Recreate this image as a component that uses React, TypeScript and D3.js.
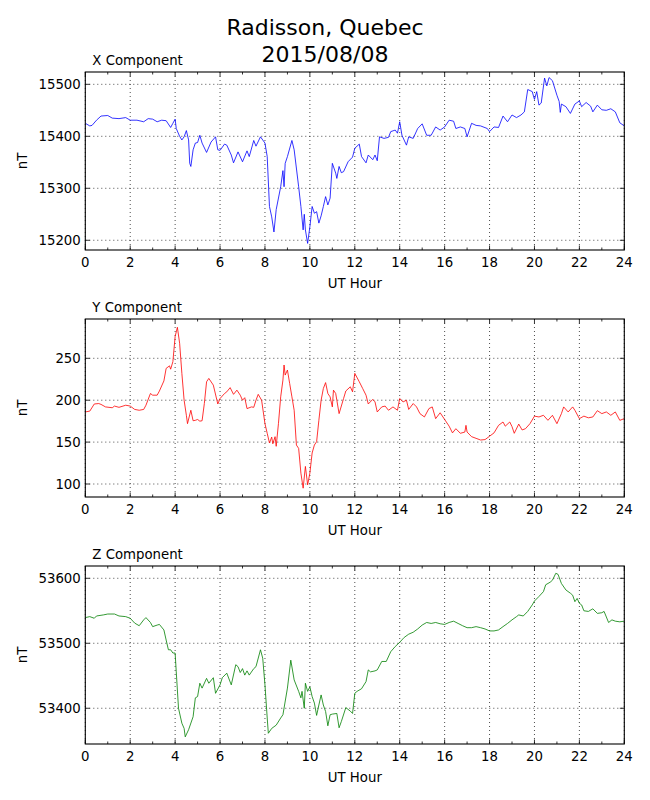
import { useMemo } from "react";
import * as d3 from "d3";

// Radisson magnetometer, 2015/08/08
const xHours = [0, 0.2, 0.3, 0.5, 0.7, 1.0, 1.2, 1.5, 1.8, 2.0, 2.3, 2.6, 2.8, 3.0, 3.2, 3.4, 3.6, 3.8, 3.9, 4.0, 4.05, 4.2, 4.3, 4.4, 4.5, 4.6, 4.65, 4.7, 4.8, 4.9, 5.0, 5.1, 5.2, 5.4, 5.6, 5.8, 5.9, 6.0, 6.2, 6.3, 6.5, 6.6, 6.8, 7.0, 7.2, 7.3, 7.5, 7.6, 7.8, 8.0, 8.1, 8.2, 8.3, 8.4, 8.5, 8.7, 8.8, 8.85, 8.9, 9.0, 9.2, 9.3, 9.5, 9.6, 9.7, 9.75, 9.8, 9.9, 10.0, 10.1, 10.2, 10.3, 10.4, 10.5, 10.6, 10.7, 10.8, 10.9, 11.0, 11.15, 11.2, 11.3, 11.4, 11.5, 11.7, 11.9, 12.0, 12.2, 12.3, 12.5, 12.6, 12.8, 12.9, 13.0, 13.1, 13.3, 13.5, 13.6, 13.8, 13.9, 14.0, 14.1, 14.3, 14.4, 14.6, 14.8, 15.0, 15.2, 15.4, 15.6, 15.8, 16.0, 16.2, 16.4, 16.5, 16.7, 16.9, 17.0, 17.2, 17.4, 17.6, 17.9, 18.0, 18.2, 18.4, 18.6, 18.8, 19.0, 19.2, 19.4, 19.55, 19.7, 19.9, 20.0, 20.1, 20.2, 20.3, 20.45, 20.55, 20.65, 20.8, 21.0, 21.1, 21.15, 21.2, 21.4, 21.6, 21.8, 22.0, 22.1, 22.3, 22.5, 22.6, 22.8, 23.0, 23.2, 23.4, 23.6, 23.8, 24.0];
const xValues = [15425, 15420, 15421, 15431, 15439, 15440, 15435, 15434, 15436, 15431, 15431, 15428, 15434, 15433, 15428, 15431, 15430, 15417, 15425, 15433, 15415, 15400, 15393, 15399, 15411, 15393, 15348, 15342, 15374, 15387, 15388, 15402, 15387, 15369, 15389, 15399, 15374, 15373, 15385, 15383, 15364, 15349, 15370, 15351, 15372, 15361, 15392, 15381, 15399, 15387, 15361, 15265, 15245, 15216, 15259, 15303, 15334, 15303, 15348, 15361, 15392, 15374, 15303, 15265, 15220, 15250, 15220, 15194, 15226, 15265, 15252, 15255, 15233, 15247, 15265, 15284, 15268, 15281, 15348, 15329, 15319, 15342, 15330, 15332, 15351, 15360, 15377, 15385, 15361, 15349, 15364, 15355, 15364, 15353, 15399, 15396, 15398, 15409, 15412, 15406, 15428, 15402, 15383, 15399, 15396, 15415, 15424, 15402, 15402, 15418, 15412, 15418, 15431, 15429, 15415, 15418, 15415, 15399, 15425, 15421, 15420, 15415, 15409, 15418, 15417, 15439, 15428, 15441, 15436, 15441, 15447, 15490, 15486, 15471, 15486, 15460, 15464, 15512, 15497, 15513, 15507, 15479, 15467, 15446, 15462, 15457, 15444, 15462, 15468, 15457, 15465, 15458, 15447, 15460, 15451, 15450, 15453, 15447, 15426, 15420];

const yHours = [0, 0.2, 0.4, 0.6, 0.7, 0.9, 1.2, 1.3, 1.5, 1.8, 2.0, 2.2, 2.4, 2.6, 2.7, 2.9, 3.0, 3.2, 3.3, 3.5, 3.6, 3.75, 3.8, 3.9, 4.0, 4.1, 4.2, 4.3, 4.4, 4.5, 4.55, 4.7, 4.8, 4.9, 5.0, 5.1, 5.2, 5.3, 5.4, 5.5, 5.7, 5.9, 6.0, 6.2, 6.3, 6.45, 6.6, 6.75, 6.9, 7.0, 7.1, 7.2, 7.4, 7.5, 7.6, 7.7, 7.85, 8.0, 8.1, 8.2, 8.3, 8.35, 8.45, 8.5, 8.6, 8.7, 8.8, 8.85, 8.9, 9.0, 9.1, 9.2, 9.3, 9.4, 9.5, 9.6, 9.7, 9.8, 9.9, 10.0, 10.1, 10.2, 10.3, 10.4, 10.5, 10.6, 10.7, 10.8, 10.9, 11.0, 11.05, 11.15, 11.3, 11.5, 11.6, 11.8, 11.9, 12.0, 12.2, 12.35, 12.5, 12.6, 12.8, 12.9, 13.0, 13.2, 13.35, 13.5, 13.7, 13.9, 14.0, 14.15, 14.3, 14.4, 14.6, 14.75, 14.9, 15.1, 15.3, 15.45, 15.6, 15.8, 16.0, 16.2, 16.35, 16.5, 16.7, 16.9, 16.95, 17.0, 17.2, 17.4, 17.6, 17.8, 18.0, 18.2, 18.4, 18.6, 18.7, 18.9, 19.0, 19.1, 19.3, 19.45, 19.6, 19.8, 20.0, 20.2, 20.4, 20.6, 20.8, 21.0, 21.2, 21.3, 21.5, 21.7, 21.8, 22.0, 22.2, 22.4, 22.6, 22.8, 23.0, 23.2, 23.4, 23.6, 23.8, 24.0];
const yValues = [186, 187, 195.5, 196, 195, 192, 191, 193, 191.5, 194, 193, 189, 188, 189, 194, 208, 206, 206, 211, 223, 238, 241, 237, 246, 276, 287, 268, 232, 200, 182, 172, 188, 175.5, 176, 177, 175, 175.5, 196, 222, 226, 218, 195.5, 202, 208, 210, 215, 207, 212, 206, 200, 203, 190, 192, 191.5, 200, 207, 200, 172, 160.5, 149, 156, 148, 156.5, 145, 172, 204, 224, 242, 230, 236, 220, 204, 188, 146.5, 142.5, 113, 95, 121, 99, 113, 137, 146.5, 150.5, 176, 200, 214, 221, 208, 204, 192, 212, 208, 184, 202, 211, 216, 210, 232, 222, 214, 206, 195.5, 201, 198, 186, 192, 193, 188, 192, 188, 202, 198, 200, 189, 196, 192, 184, 180, 190, 192, 178, 185, 177, 169, 161, 166, 160.5, 162, 170, 162, 156.5, 154.5, 152.5, 153, 157, 161, 170, 174, 169, 174, 168.5, 160.5, 171.5, 164.5, 166, 172, 181, 180, 182, 176, 182, 172, 184, 192, 186, 192, 188, 178, 181, 179, 180, 187.5, 184, 186, 182, 186, 176, 178];

const zHours = [0, 0.2, 0.4, 0.5, 0.8, 1.0, 1.3, 1.5, 1.8, 2.0, 2.2, 2.4, 2.6, 2.7, 2.9, 3.0, 3.2, 3.3, 3.5, 3.6, 3.7, 3.8, 3.9, 4.0, 4.05, 4.15, 4.3, 4.4, 4.45, 4.6, 4.8, 4.9, 5.0, 5.1, 5.2, 5.4, 5.5, 5.7, 5.8, 6.0, 6.1, 6.3, 6.5, 6.7, 6.8, 6.9, 7.0, 7.1, 7.2, 7.3, 7.5, 7.6, 7.8, 7.9, 8.0, 8.1, 8.15, 8.3, 8.5, 8.7, 8.8, 9.0, 9.15, 9.3, 9.5, 9.6, 9.65, 9.75, 9.8, 9.9, 10.0, 10.1, 10.2, 10.3, 10.4, 10.5, 10.6, 10.7, 10.8, 10.9, 11.0, 11.2, 11.3, 11.4, 11.6, 11.8, 11.9, 12.0, 12.1, 12.3, 12.5, 12.6, 12.7, 12.9, 13.0, 13.2, 13.4, 13.6, 13.8, 14.0, 14.2, 14.4, 14.6, 14.8, 15.0, 15.2, 15.4, 15.6, 15.8, 16.0, 16.2, 16.4, 16.6, 16.8, 17.0, 17.2, 17.4, 17.6, 17.8, 18.0, 18.2, 18.4, 18.6, 18.8, 19.0, 19.2, 19.3, 19.5, 19.7, 19.9, 20.0, 20.2, 20.4, 20.5, 20.7, 20.8, 20.95, 21.05, 21.2, 21.4, 21.6, 21.7, 21.8, 21.9, 22.0, 22.1, 22.2, 22.4, 22.6, 22.8, 23.0, 23.1, 23.3, 23.45, 23.6, 23.8, 24.0];
const zValues = [53539.5, 53541, 53538.5, 53542, 53543.6, 53545, 53545, 53542, 53541, 53538.5, 53531, 53527, 53536, 53539.5, 53532, 53525.6, 53528, 53529, 53520.5, 53505, 53490, 53490, 53485, 53485, 53456, 53400, 53377, 53369, 53356, 53367, 53387, 53416, 53418, 53438.5, 53431, 53446, 53438.5, 53447, 53423, 53436, 53447, 53454, 53436, 53467, 53464, 53455, 53461, 53451, 53457.5, 53451, 53461, 53464, 53490, 53477, 53436, 53385, 53361.5, 53369, 53374, 53385, 53390, 53431, 53474, 53443.6, 53426, 53416, 53426, 53400, 53438.5, 53426, 53433, 53418, 53408, 53389, 53405, 53420.5, 53405, 53395, 53373, 53390, 53391, 53392, 53370, 53379.5, 53401, 53395.6, 53392, 53423, 53426, 53430, 53441, 53459, 53456, 53457.5, 53459, 53472, 53472, 53487, 53495, 53501.5, 53509, 53514, 53517, 53522, 53528, 53532, 53530.5, 53532, 53530, 53529, 53532, 53534, 53530.5, 53527, 53524, 53524, 53525.6, 53524, 53522, 53519, 53519, 53520.5, 53525.6, 53530.5, 53536, 53541, 53543.6, 53542, 53549, 53559, 53565, 53572, 53579.5, 53590, 53594, 53597, 53607.7, 53606, 53592, 53582, 53577, 53574, 53564, 53569, 53561.5, 53559, 53550, 53549, 53553, 53546, 53547, 53549, 53532, 53536, 53534, 53533, 53534];

const xTicks = [15200, 15300, 15400, 15500];
const yTicks = [100, 150, 200, 250];
const zTicks = [53400, 53500, 53600];
const hourTicks = [0, 2, 4, 6, 8, 10, 12, 14, 16, 18, 20, 22, 24];

const WIDTH = 650;
const HEIGHT = 800;
const LEFT = 85.3;
const RIGHT = 624.3;
const PANEL_H = 178;
const FONT = "DejaVu Sans, sans-serif";

type PanelProps = {
  top: number;
  title: string;
  hours: number[];
  values: number[];
  domain: [number, number];
  ticks: number[];
  color: string;
};

const Panel = ({ top, title, hours, values, domain, ticks, color }: PanelProps) => {
  const x = d3.scaleLinear().domain([0, 24]).range([LEFT, RIGHT]);
  const y = d3.scaleLinear().domain(domain).range([top + PANEL_H, top]);
  const bottom = top + PANEL_H;

  const path = useMemo(() => {
    const line = d3
      .line<number>()
      .x((_, i) => x(hours[i]))
      .y((d) => y(d));
    return line(values) ?? "";
  }, [hours, values, domain, top]);

  const minor = d3.range(1, 24, 2);

  return (
    <g>
      <text x={LEFT + 7} y={top - 7} fontSize={13.3} fontFamily={FONT}>
        {title}
      </text>
      {/* grid */}
      {hourTicks.map((h) => (
        <line key={"gx" + h} x1={x(h)} x2={x(h)} y1={top} y2={bottom} stroke="#000" strokeWidth={0.7} strokeDasharray="1,3" />
      ))}
      {ticks.map((t) => (
        <line key={"gy" + t} x1={LEFT} x2={RIGHT} y1={y(t)} y2={y(t)} stroke="#000" strokeWidth={0.7} strokeDasharray="1,3" />
      ))}
      <clipPath id={"clip" + top}>
        <rect x={LEFT} y={top} width={RIGHT - LEFT} height={PANEL_H} />
      </clipPath>
      <path d={path} fill="none" stroke={color} strokeWidth={0.8} clipPath={`url(#clip${top})`} />
      {/* major ticks */}
      {hourTicks.map((h) => (
        <g key={"tx" + h}>
          <line x1={x(h)} x2={x(h)} y1={bottom} y2={bottom - 4.5} stroke="#000" strokeWidth={0.8} />
          <line x1={x(h)} x2={x(h)} y1={top} y2={top + 4.5} stroke="#000" strokeWidth={0.8} />
          <text x={x(h)} y={bottom + 17} fontSize={13.3} fontFamily={FONT} textAnchor="middle">
            {h}
          </text>
        </g>
      ))}
      {minor.map((h) => (
        <g key={"mx" + h}>
          <line x1={x(h)} x2={x(h)} y1={bottom} y2={bottom - 2.5} stroke="#000" strokeWidth={0.8} />
          <line x1={x(h)} x2={x(h)} y1={top} y2={top + 2.5} stroke="#000" strokeWidth={0.8} />
        </g>
      ))}
      {ticks.map((t) => (
        <g key={"ty" + t}>
          <line x1={LEFT} x2={LEFT + 4.5} y1={y(t)} y2={y(t)} stroke="#000" strokeWidth={0.8} />
          <line x1={RIGHT} x2={RIGHT - 4.5} y1={y(t)} y2={y(t)} stroke="#000" strokeWidth={0.8} />
          <text x={LEFT - 4.5} y={y(t)} dy="0.36em" fontSize={13.3} fontFamily={FONT} textAnchor="end">
            {t}
          </text>
        </g>
      ))}
      <rect x={LEFT} y={top} width={RIGHT - LEFT} height={PANEL_H} fill="none" stroke="#000" strokeWidth={1.1} />
      <text x={(LEFT + RIGHT) / 2} y={bottom + 38} fontSize={13.3} fontFamily={FONT} textAnchor="middle">
        UT Hour
      </text>
      <text
        transform={`translate(27, ${top + PANEL_H / 2}) rotate(-90)`}
        fontSize={13.3}
        fontFamily={FONT}
        textAnchor="middle"
      >
        nT
      </text>
    </g>
  );
};

export default function App() {
  return (
    <svg width={WIDTH} height={HEIGHT} style={{ position: "absolute", left: 0, top: 0, background: "#fff" }}>
      <text x={WIDTH / 2} y={34.5} fontSize={22} fontFamily={FONT} textAnchor="middle">
        Radisson, Quebec
      </text>
      <text x={WIDTH / 2} y={61.5} fontSize={22} fontFamily={FONT} textAnchor="middle">
        2015/08/08
      </text>
      <Panel top={72} title="X Component" hours={xHours} values={xValues} domain={[15181.3, 15523.7]} ticks={xTicks} color="#0000ff" />
      <Panel top={319} title="Y Component" hours={yHours} values={yValues} domain={[84.5, 296.9]} ticks={yTicks} color="#ff0000" />
      <Panel top={566} title="Z Component" hours={zHours} values={zValues} domain={[53345, 53618.9]} ticks={zTicks} color="#008000" />
    </svg>
  );
}
